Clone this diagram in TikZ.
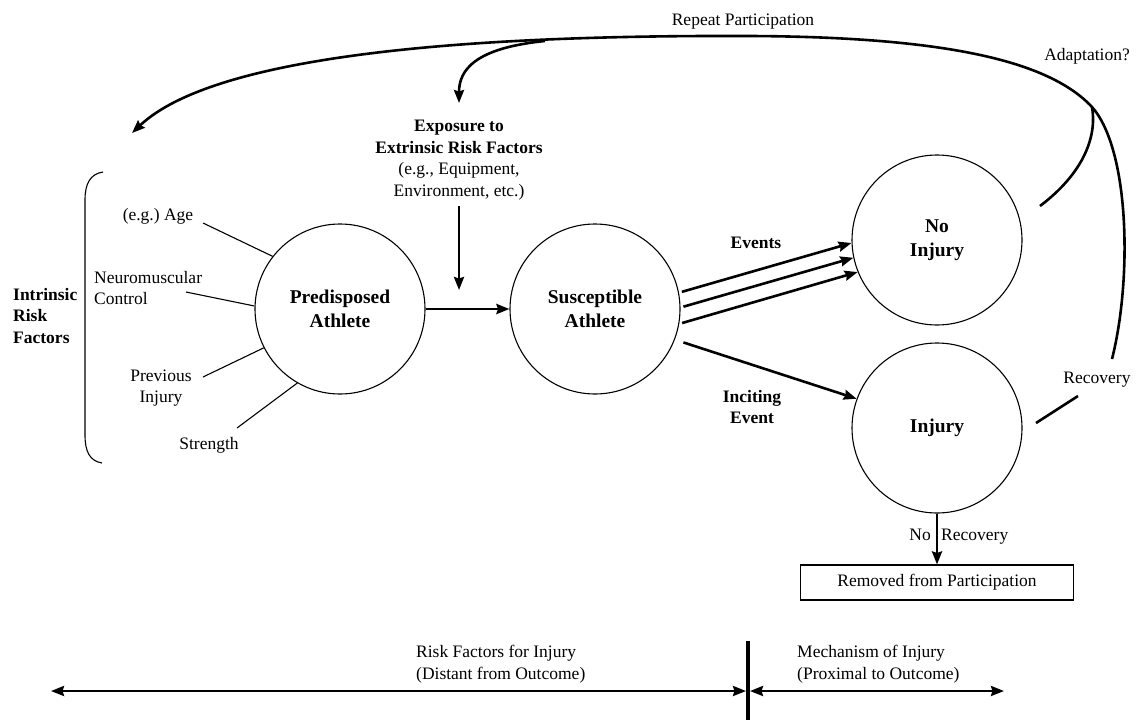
\documentclass[tikz,border=0pt]{standalone}
\usepackage{fontspec}
\setmainfont{Liberation Serif}
\usetikzlibrary{arrows.meta}
\begin{document}
\begin{tikzpicture}[x=1pt,y=-1pt,
  >={Stealth[length=13pt,width=10pt,inset=1.5pt]},
  lbl/.style={font=\fontsize{17.5}{21.5}\selectfont, inner sep=0pt, align=center},
  blbl/.style={inner sep=0pt, align=center, font=\fontsize{17.5}{21.5}\selectfont\bfseries},
  circ/.style={draw, circle, minimum size=170pt, inner sep=0pt, line width=1.1pt, align=center, font=\fontsize{19.5}{24}\selectfont\bfseries},
  fine/.style={line width=1.1pt},
  heavy/.style={line width=2.6pt},
  arr/.style={heavy, ->},
]
\useasboundingbox (0,0) rectangle (1145,720);

% main circles
\node[circ] (pre) at (340,309) {Predisposed\\Athlete};
\node[circ] (sus) at (595,309) {Susceptible\\Athlete};
\node[circ] (noinj) at (937,240) {No\\Injury};
\node[circ] (inj) at (937,428) {Injury};
\node[draw, fine, lbl, minimum width=273pt, minimum height=35pt] (removed) at (937,582.5) {Removed from Participation};

% labels
\node[blbl, anchor=west, align=left] (irf) at (13,316) {Intrinsic\\Risk\\Factors};
\node[lbl] (age) at (158,216) {(e.g.)\ Age};
\node[lbl, anchor=west, align=left] (neuro) at (94,288) {Neuromuscular\\Control};
\node[lbl] (prev) at (161,388) {Previous\\Injury};
\node[lbl] (str) at (209,445) {Strength};
\node[lbl] (expo) at (459,160) {\textbf{Exposure to}\\\textbf{Extrinsic Risk Factors}\\(e.g., Equipment,\\Environment, etc.)};
\node[blbl] (events) at (756,243) {Events};
\node[blbl] (incite) at (752,407) {Inciting\\Event};
\node[lbl] (repeat) at (743,22) {Repeat Participation};
\node[lbl] (adapt) at (1087,56) {Adaptation?};
\node[lbl] (recov) at (1097,380) {Recovery};
\node[lbl, anchor=base east] (nolbl) at (931,540) {No};
\node[lbl, anchor=base west] (norec) at (941,540) {Recovery};
\node[lbl, anchor=west, align=left] (riskf) at (416,664) {Risk Factors for Injury\\(Distant from Outcome)};
\node[lbl, anchor=west, align=left] (mech) at (797,664) {Mechanism of Injury\\(Proximal to Outcome)};

% coordinates
\coordinate (ageE) at (203,223);
\coordinate (neuroE) at (186,292);
\coordinate (prevE) at (203,377);
\coordinate (strE) at (237,428);
\coordinate (expoTip) at (459,290);
\coordinate (recA) at (1036,423);
\coordinate (recB) at (1078,396);
\coordinate (bigS) at (1112,359);
\coordinate (junc) at (1092,107);
\coordinate (irfTip) at (132,133);
\coordinate (brS) at (545,41);
\coordinate (brTip) at (459,103);
\coordinate (adA) at (1040,206);
\coordinate (bkT) at (103,172);
\coordinate (bkB) at (102,463);
\coordinate (divT) at (748,641);
\coordinate (divB) at (748,720);
\coordinate (axL) at (51,691);
\coordinate (axM1) at (746,691);
\coordinate (axM2) at (750,691);
\coordinate (axR) at (1004,691);

% intrinsic factor lines
\draw[fine] (ageE) -- (pre.142.6);
\draw[fine] (neuroE) -- (pre.178);
\draw[fine] (prevE) -- (pre.207);
\draw[fine] (strE) -- (pre.240.5);

% bracket
\draw[fine] (bkT) .. controls (90,174) and (85,184) .. (85,200) -- (85,435) .. controls (85,452) and (90,461) .. (bkB);

% main flow
\draw[arr] (pre) -- (sus);
\draw[arr, shorten <=6pt] (expo.south) -- (expoTip);
\draw[arr, shorten <=3pt] (sus.11) -- (noinj.182);
\draw[arr, shorten <=3pt] (sus.1) -- (noinj.192.7);
\draw[arr, shorten <=3pt] (sus.-10.6) -- (noinj.202.6);
\draw[arr, shorten <=9pt] (sus.-21) -- (inj.160);
\draw[arr] (inj.south) -- (removed.north);

% feedback loops
\draw[heavy] (recA) -- (recB);
\draw[arr] (bigS) .. controls (1132,280) and (1130,150) .. (junc)
  .. controls (1050,62) and (950,37) .. (750,36)
  .. controls (500,35) and (220,50) .. (irfTip);
\draw[arr] (brS) .. controls (475,48) and (459,70) .. (brTip);
\draw[heavy] (adA) .. controls (1085,172) and (1097,135) .. (junc);

% bottom axis
\draw[line width=4pt] (divT) -- (divB);
\draw[heavy, <->] (axL) -- (axM1);
\draw[heavy, <->] (axM2) -- (axR);
\end{tikzpicture}
\end{document}
